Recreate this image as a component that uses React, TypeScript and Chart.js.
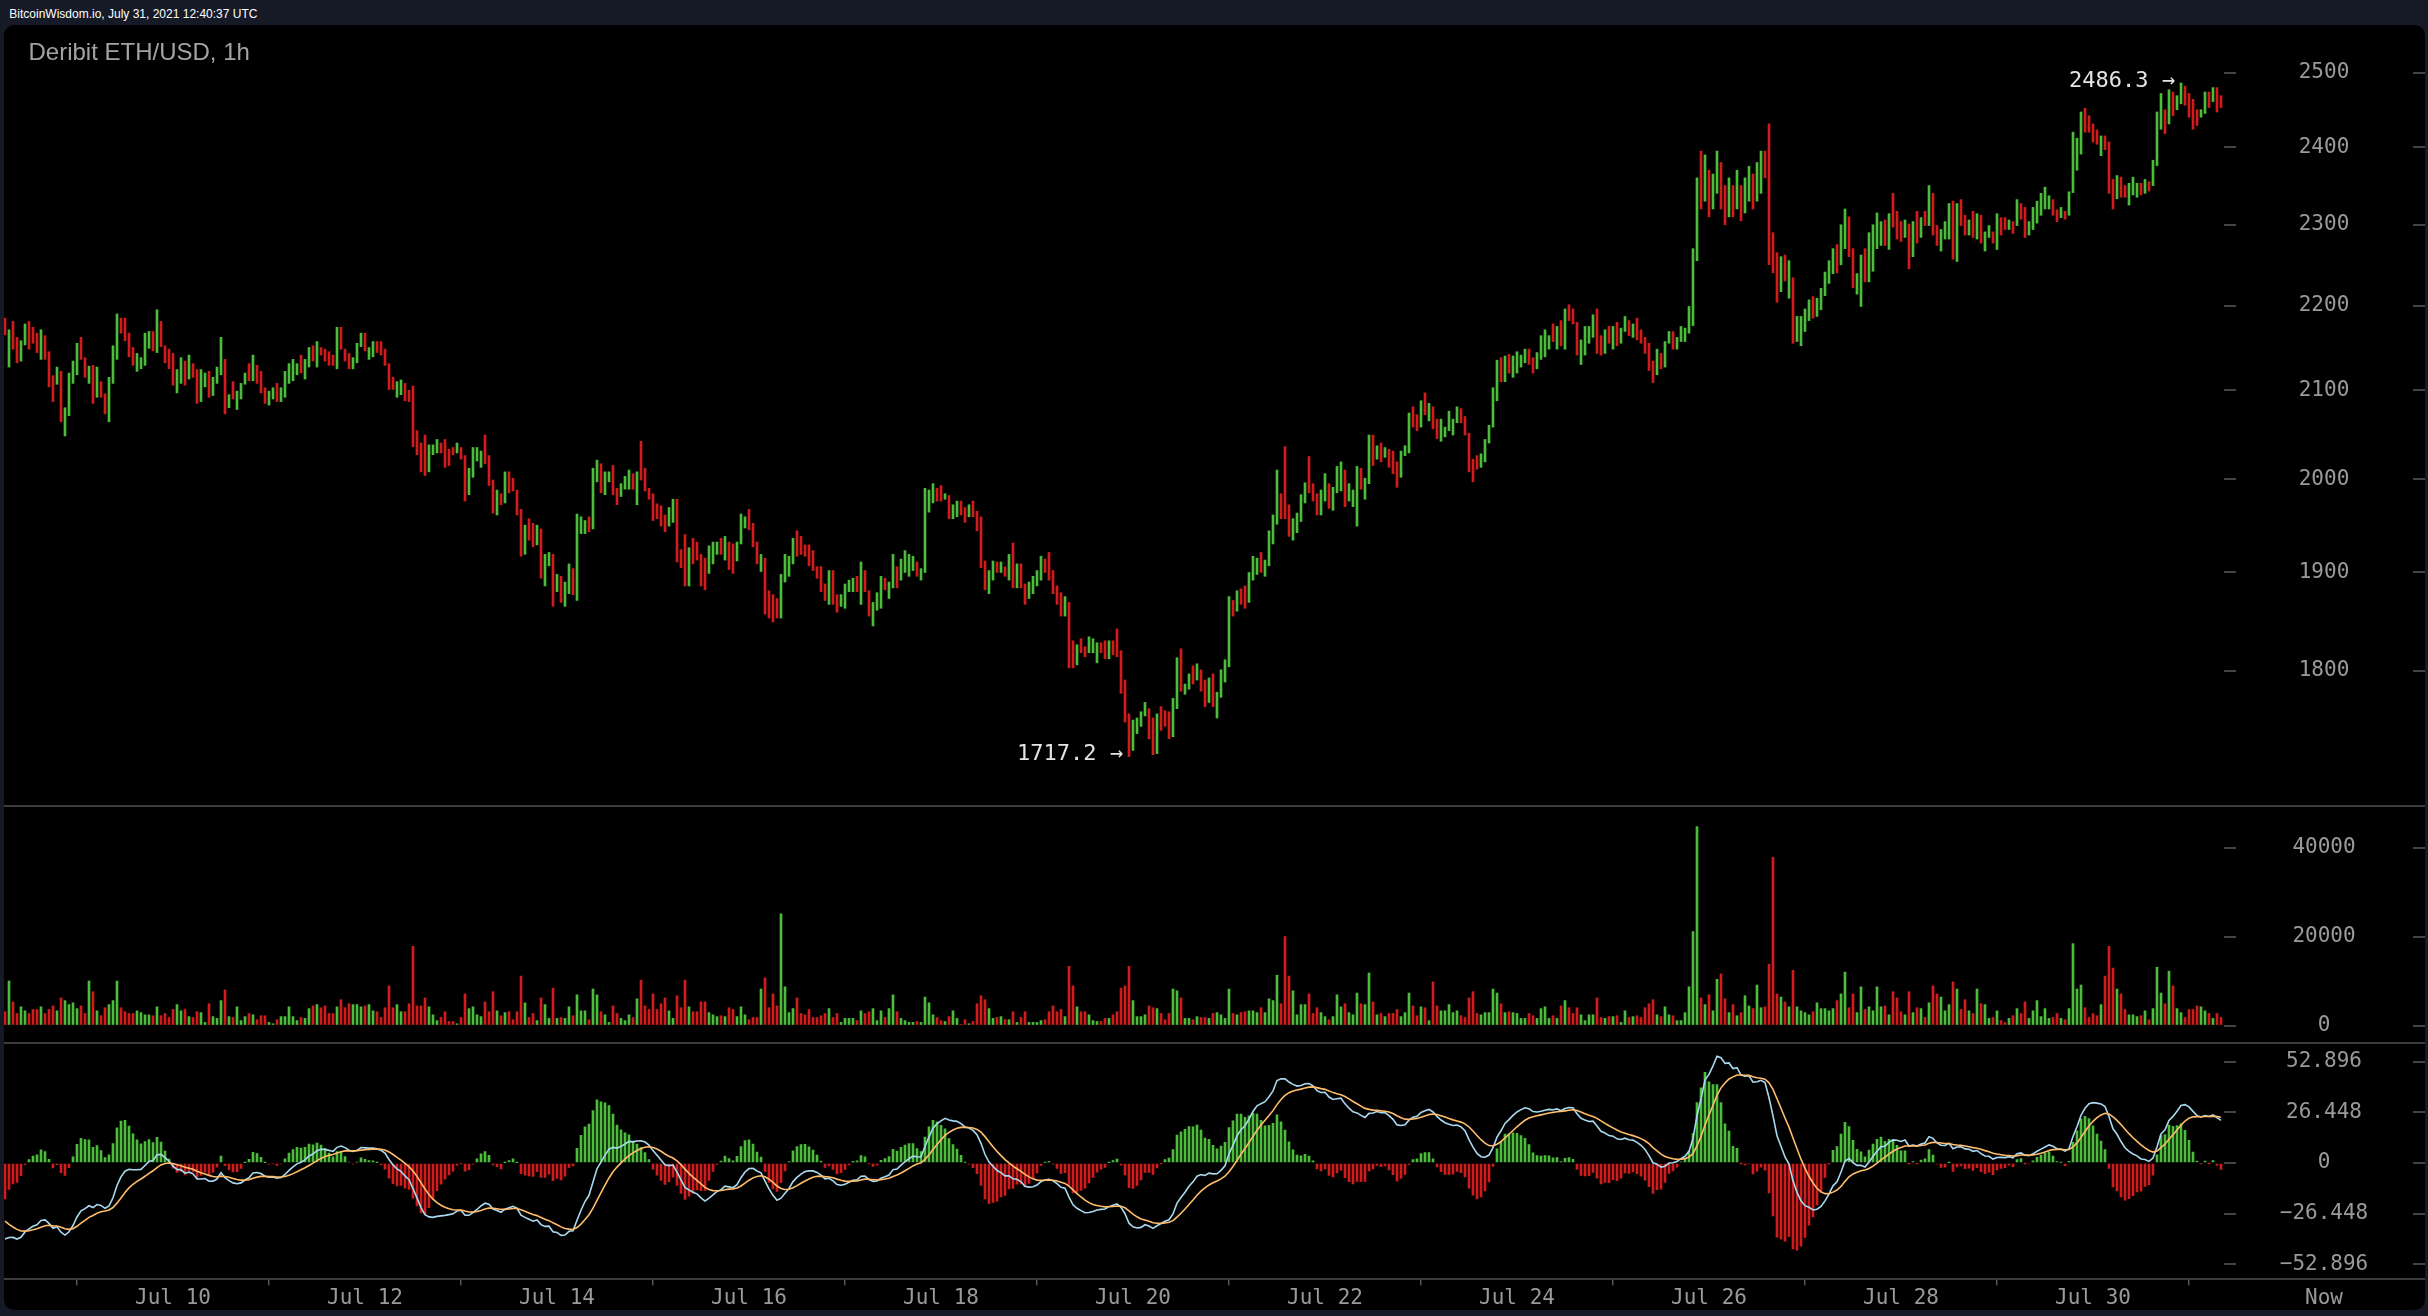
import React, { useEffect, useRef } from "react";
import { Chart, registerables } from "chart.js";

Chart.register(...registerables);

// ---------------- data (hourly candles from Jul 8 06:00) ----------------
const firstOpen = 2180;

const highs = [
  2185,2171,2181,2162,2158,2178,2181,2174,2167,2171,
  2164,2145,2117,2127,2122,2080,2120,2134,2155,2162,
  2138,2128,2129,2127,2110,2096,2115,2152,2190,2185,
  2185,2167,2150,2143,2138,2167,2169,2169,2195,2181,
  2152,2148,2143,2124,2138,2134,2141,2131,2124,2124,
  2120,2122,2115,2127,2162,2136,2095,2110,2099,2108,
  2120,2131,2141,2129,2122,2103,2099,2103,2108,2103,
  2122,2131,2136,2131,2141,2136,2150,2152,2157,2150,
  2148,2145,2141,2174,2174,2148,2143,2138,2155,2167,
  2167,2150,2157,2157,2157,2148,2131,2115,2110,2112,
  2108,2100,2105,2054,2040,2049,2038,2038,2044,2040,
  2044,2033,2035,2040,2035,2026,2012,2035,2035,2031,
  2049,2026,1999,1988,1984,2008,2008,2001,1988,1967,
  1950,1957,1952,1950,1946,1919,1921,1919,1898,1896,
  1890,1909,1904,1962,1959,1955,1959,2012,2021,2017,
  2008,2008,2015,1990,1995,2003,2010,2006,2008,2042,
  2012,1990,1984,1973,1971,1961,1969,1978,1978,1924,
  1940,1926,1936,1932,1919,1915,1928,1932,1932,1936,
  1938,1932,1930,1932,1962,1959,1967,1952,1932,1919,
  1915,1881,1877,1873,1898,1919,1917,1936,1944,1938,
  1929,1929,1923,1906,1906,1888,1902,1902,1877,1877,
  1888,1892,1894,1896,1911,1902,1881,1869,1879,1896,
  1894,1890,1919,1906,1914,1923,1919,1917,1911,1904,
  1990,1988,1995,1990,1993,1984,1982,1972,1976,1976,
  1969,1972,1976,1965,1959,1912,1902,1912,1911,1911,
  1906,1919,1931,1909,1909,1888,1890,1896,1902,1917,
  1914,1921,1902,1886,1879,1875,1869,1830,1826,1832,
  1824,1834,1832,1828,1828,1830,1830,1830,1842,1820,
  1791,1758,1752,1754,1760,1769,1763,1754,1758,1765,
  1761,1760,1773,1813,1822,1787,1797,1805,1807,1801,
  1791,1793,1797,1779,1801,1811,1875,1871,1881,1883,
  1886,1900,1917,1915,1921,1913,1944,1961,2010,1984,
  2036,1972,1957,1963,1983,1996,2025,1995,1984,1988,
  2006,1995,1991,2014,2019,2010,1995,1988,2014,2012,
  2001,2049,2049,2037,2040,2035,2033,2031,2019,2031,
  2037,2074,2081,2072,2088,2097,2085,2081,2067,2067,
  2058,2076,2067,2081,2079,2070,2051,2022,2026,2028,
  2044,2060,2103,2135,2138,2140,2142,2140,2145,2141,
  2148,2148,2138,2144,2164,2171,2164,2178,2175,2182,
  2196,2201,2196,2180,2159,2175,2175,2189,2196,2164,
  2171,2175,2175,2180,2173,2187,2182,2178,2185,2171,
  2162,2155,2134,2148,2143,2157,2169,2169,2162,2175,
  2173,2199,2270,2360,2395,2390,2370,2365,2395,2380,
  2350,2360,2350,2370,2350,2360,2375,2365,2380,2395,
  2395,2431,2290,2265,2260,2262,2255,2234,2187,2187,
  2196,2207,2211,2209,2221,2241,2255,2270,2275,2300,
  2320,2310,2270,2239,2262,2270,2290,2300,2315,2304,
  2306,2314,2340,2317,2304,2306,2301,2304,2317,2309,
  2317,2350,2340,2299,2294,2304,2327,2330,2327,2332,
  2312,2306,2317,2314,2312,2291,2299,2291,2314,2309,
  2309,2306,2304,2332,2327,2322,2304,2322,2330,2340,
  2348,2337,2332,2319,2322,2317,2342,2420,2412,2447,
  2452,2442,2431,2423,2415,2415,2407,2358,2363,2361,
  2350,2353,2361,2353,2353,2358,2355,2383,2447,2472,
  2450,2477,2474,2469,2486.3,2482,2472,2464,2450,2450,
  2474,2474,2480,2480,2469,
];

const lows = [
  2165,2127,2148,2132,2134,2153,2148,2155,2144,2136,
  2136,2104,2087,2107,2064,2048,2071,2108,2118,2136,
  2115,2108,2085,2092,2092,2073,2064,2108,2136,2167,
  2158,2139,2129,2122,2125,2129,2149,2146,2144,2151,
  2132,2125,2106,2097,2108,2106,2113,2115,2085,2087,
  2104,2092,2094,2108,2118,2073,2080,2090,2078,2090,
  2107,2111,2111,2108,2097,2085,2083,2090,2087,2087,
  2092,2108,2111,2118,2120,2113,2127,2134,2127,2141,
  2134,2129,2129,2125,2148,2134,2125,2125,2132,2151,
  2146,2136,2139,2144,2141,2129,2101,2101,2092,2095,
  2088,2087,2036,2027,2008,2004,2008,2027,2029,2029,
  2013,2015,2027,2029,2022,1976,1983,2002,2020,2013,
  2017,1993,1963,1961,1972,1974,1985,1987,1961,1917,
  1919,1934,1927,1929,1894,1886,1907,1865,1880,1869,
  1865,1878,1877,1871,1941,1941,1943,1946,1997,1985,
  1983,1997,1983,1972,1981,1989,1989,1989,1972,1999,
  1987,1978,1955,1957,1949,1943,1949,1953,1911,1905,
  1886,1886,1909,1913,1886,1882,1899,1909,1919,1919,
  1913,1903,1899,1912,1930,1947,1945,1927,1909,1901,
  1857,1853,1849,1853,1853,1890,1896,1909,1917,1919,
  1917,1907,1902,1894,1880,1871,1867,1867,1859,1865,
  1863,1880,1880,1880,1867,1880,1855,1845,1861,1863,
  1882,1873,1884,1884,1892,1900,1896,1902,1896,1892,
  1900,1964,1974,1976,1976,1978,1957,1957,1959,1961,
  1953,1959,1959,1944,1905,1882,1878,1892,1900,1900,
  1896,1892,1884,1884,1884,1867,1873,1878,1886,1892,
  1900,1892,1878,1867,1855,1855,1803,1803,1806,1818,
  1814,1818,1818,1808,1818,1812,1812,1816,1814,1778,
  1750,1717.2,1723,1739,1746,1756,1734,1719,1720,1742,
  1746,1734,1736,1763,1780,1777,1782,1787,1791,1780,
  1765,1769,1765,1754,1774,1789,1804,1855,1860,1867,
  1863,1869,1892,1898,1900,1896,1907,1930,1951,1957,
  1957,1938,1934,1942,1954,1974,1985,1976,1961,1961,
  1976,1968,1966,1985,1987,1970,1976,1970,1949,1989,
  1978,1995,2015,2022,2019,2024,2013,2006,1991,2002,
  2026,2029,2058,2054,2058,2072,2065,2056,2045,2042,
  2047,2054,2049,2063,2063,2049,2008,1997,2011,2013,
  2019,2040,2058,2088,2110,2110,2120,2115,2120,2127,
  2132,2130,2120,2125,2136,2139,2148,2157,2148,2152,
  2148,2182,2178,2141,2130,2141,2155,2162,2143,2141,
  2143,2155,2148,2152,2155,2169,2164,2162,2159,2155,
  2143,2123,2109,2118,2125,2127,2155,2148,2148,2157,
  2157,2167,2176,2255,2320,2330,2310,2320,2340,2320,
  2300,2310,2310,2320,2305,2315,2330,2320,2330,2340,
  2360,2250,2240,2204,2217,2230,2209,2155,2157,2152,
  2169,2182,2185,2187,2195,2212,2227,2239,2240,2250,
  2270,2260,2222,2214,2199,2229,2229,2242,2270,2274,
  2274,2269,2297,2282,2279,2284,2245,2260,2277,2284,
  2299,2299,2287,2274,2267,2282,2282,2257,2254,2299,
  2287,2287,2284,2282,2277,2267,2284,2277,2269,2287,
  2294,2294,2289,2299,2307,2284,2287,2294,2302,2312,
  2320,2320,2312,2304,2309,2307,2312,2341,2370,2391,
  2420,2420,2407,2404,2389,2397,2340,2320,2333,2335,
  2335,2325,2338,2335,2338,2340,2343,2350,2376,2424,
  2418,2431,2442,2450,2458,2456,2440,2424,2429,2440,
  2445,2453,2461,2447,2453,
];

const closes = [
  2166,2168,2155,2138,2153,2173,2160,2157,2149,2164,
  2142,2112,2093,2123,2076,2079,2110,2129,2148,2141,
  2120,2124,2094,2120,2096,2078,2105,2143,2179,2171,
  2163,2145,2133,2134,2136,2159,2165,2151,2185,2157,
  2136,2130,2113,2119,2132,2112,2135,2118,2093,2117,
  2119,2098,2111,2123,2153,2086,2092,2091,2095,2104,
  2117,2115,2135,2112,2102,2089,2096,2100,2091,2100,
  2116,2126,2127,2129,2124,2131,2145,2138,2151,2143,
  2137,2132,2131,2164,2153,2137,2129,2135,2150,2164,
  2148,2149,2153,2147,2144,2133,2107,2104,2106,2109,
  2092,2089,2050,2032,2014,2013,2032,2036,2041,2035,
  2032,2030,2028,2038,2025,1986,2006,2020,2024,2028,
  2023,2000,1970,1983,1974,2001,1990,1989,1966,1927,
  1944,1939,1932,1946,1904,1912,1918,1876,1894,1874,
  1885,1903,1882,1944,1950,1953,1946,1999,2016,1991,
  2003,2006,1989,1976,1992,2000,2006,1992,2001,2000,
  1992,1980,1961,1960,1953,1947,1965,1973,1924,1909,
  1897,1918,1914,1913,1893,1889,1922,1927,1929,1922,
  1933,1909,1905,1928,1956,1957,1949,1932,1914,1915,
  1869,1859,1855,1854,1889,1908,1913,1931,1922,1921,
  1919,1911,1906,1896,1885,1874,1895,1874,1863,1875,
  1883,1890,1891,1883,1902,1884,1860,1864,1875,1889,
  1884,1887,1912,1888,1910,1912,1915,1916,1899,1902,
  1972,1983,1991,1979,1978,1983,1962,1969,1973,1964,
  1956,1969,1962,1948,1916,1888,1897,1908,1902,1909,
  1898,1914,1893,1904,1889,1871,1887,1892,1899,1912,
  1903,1898,1883,1871,1860,1871,1816,1808,1822,1821,
  1816,1824,1826,1827,1820,1816,1826,1819,1818,1786,
  1758,1725,1746,1751,1757,1766,1740,1726,1750,1747,
  1746,1739,1766,1803,1781,1785,1794,1791,1804,1784,
  1770,1788,1771,1774,1796,1807,1861,1858,1877,1870,
  1868,1894,1912,1914,1904,1910,1937,1955,1998,1962,
  1960,1945,1952,1959,1977,1992,1989,1980,1966,1983,
  2000,1973,1986,2008,2013,1978,1983,1985,2001,1994,
  1996,2038,2022,2034,2023,2033,2017,2011,1997,2025,
  2035,2065,2063,2058,2082,2077,2081,2061,2049,2052,
  2056,2063,2065,2077,2066,2053,2017,2015,2013,2025,
  2039,2056,2094,2126,2116,2134,2124,2135,2140,2141,
  2145,2134,2124,2140,2150,2158,2161,2159,2170,2158,
  2186,2185,2182,2149,2153,2168,2171,2184,2154,2146,
  2165,2159,2170,2158,2169,2183,2168,2175,2164,2158,
  2147,2129,2114,2142,2129,2151,2166,2152,2159,2171,
  2172,2193,2251,2339,2335,2378,2322,2356,2384,2332,
  2310,2350,2318,2360,2314,2351,2366,2329,2370,2384,
  2367,2286,2250,2216,2251,2236,2246,2171,2181,2183,
  2191,2202,2190,2205,2216,2235,2249,2264,2247,2290,
  2310,2270,2232,2234,2249,2237,2278,2288,2296,2298,
  2280,2305,2302,2289,2284,2302,2256,2295,2285,2304,
  2303,2340,2298,2279,2289,2300,2318,2272,2312,2306,
  2292,2302,2291,2308,2284,2286,2296,2280,2305,2298,
  2296,2304,2292,2325,2311,2292,2301,2316,2324,2326,
  2330,2334,2316,2307,2319,2309,2336,2404,2408,2436,
  2426,2424,2412,2408,2410,2401,2353,2328,2357,2340,
  2338,2347,2350,2352,2341,2354,2345,2376,2433,2462,
  2424,2468,2448,2465,2480,2461,2446,2432,2431,2448,
  2468,2457,2476,2454,2453,
];

const volumes = [
  3100,10000,5300,2700,4200,3300,2700,3600,3600,4200,
  2700,3600,4400,3300,6200,5600,4700,5100,3800,4400,
  2700,10000,7600,3300,2200,4000,4700,5600,10000,4000,
  3100,2700,2700,3300,2900,2400,2400,2200,4200,2200,
  2700,1800,3600,4700,3300,3600,2000,1800,3100,2900,
  700,4900,2000,1600,5600,8000,2000,1800,4200,1100,
  2000,2700,2400,1300,2200,2200,700,400,1300,2000,
  2000,4200,2000,1100,1800,1600,3800,4400,4700,4000,
  4400,2700,2700,4200,5800,4000,4900,4700,4700,4200,
  4400,4700,3300,3100,1800,4000,8900,4000,4700,3100,
  3100,4900,17800,4400,4400,6200,4200,2400,1100,1800,
  3100,900,900,400,1800,7100,3800,4200,2400,2000,
  5300,3100,7600,3300,2200,2900,3100,1300,3100,11100,
  5100,1800,2700,1100,6200,4700,1600,8400,1600,1800,
  1600,4200,2200,6900,3300,3300,1300,8200,6900,3100,
  2400,700,4400,2700,1600,1100,2400,1800,6000,10200,
  4400,3600,7100,3600,4900,6200,3300,1600,6700,4000,
  10200,4200,3100,3100,5300,5300,2900,2400,2000,2200,
  2000,4000,3600,2000,4200,2400,1300,1800,1800,8200,
  10700,4000,7100,4400,25100,8700,2900,3800,6200,2700,
  2400,3600,1800,1800,2200,2700,3800,1800,2700,700,
  1600,1600,1600,1100,3300,2700,3100,3800,1100,3300,
  1800,3800,6900,3100,1600,1100,700,700,900,700,
  6400,5100,2400,1800,1100,900,2000,3300,1600,200,
  1300,400,900,4900,6700,5800,3800,1600,1800,2000,
  1300,1300,3100,700,1800,3100,700,700,700,1100,
  1300,3100,4400,3100,3600,2000,13300,8900,4200,3100,
  3100,2400,1100,900,900,1600,1600,2400,3100,8400,
  8900,13300,5600,2000,2000,2400,4400,4000,3800,2700,
  1300,2700,8200,7800,6200,1600,1600,1300,2000,1800,
  1800,1600,2700,2900,2400,1600,8200,2700,2400,2900,
  3100,3300,3300,2900,4000,2900,6000,5600,11300,4900,
  20000,11100,7800,2400,4700,4700,7100,2700,4000,2900,
  2000,1300,2000,6900,4200,4900,2900,2400,7300,4900,
  4700,11800,5300,2400,2700,2000,2700,2700,3600,2000,
  2900,7300,4400,2200,4200,4000,1100,9800,4400,3300,
  3300,4700,2900,3300,2200,1800,6200,7600,2700,2400,
  2900,2900,8200,7300,4900,2900,3100,2900,2700,1600,
  1600,2700,2200,1600,3800,4200,1600,2200,1600,4400,
  5600,4000,2700,4000,2400,1100,2400,2400,6200,1800,
  1600,2000,2000,2200,700,3300,1800,2000,2200,1800,
  4000,4900,5800,2400,2000,4200,2400,2200,1100,1100,
  2900,8700,21100,44700,6200,4700,6900,3300,10400,11600,
  6000,2900,4700,2200,2900,6700,4400,3800,9100,4000,
  4200,13800,37800,7100,6400,5300,4200,12400,4200,3300,
  2900,2400,3100,5100,3800,3800,3300,3800,5600,7100,
  12000,4000,7100,2900,8700,3600,4200,3300,8700,4200,
  4400,2400,7600,6200,3100,2400,7600,2900,4000,3800,
  1800,5100,8900,7100,6400,3300,4700,9800,8200,3600,
  5800,3300,2700,8200,4900,4700,1600,1800,3300,1100,
  700,1600,2200,3800,2700,5300,1600,3300,5600,2000,
  3800,1600,1800,2700,1600,1300,3800,18400,8200,9100,
  4000,1800,2700,2200,4700,11100,17800,12900,8200,7100,
  3600,2400,2400,2000,2200,3300,1300,3800,13100,7300,
  4900,12200,8900,3800,2900,1800,3600,3600,4400,4200,
  3300,2700,1600,2700,1800,
];

const dateTickIndex = [42, 90, 138, 186, 234, 282, 330, 378, 426, 474, 522];
const dateTickLabels = ["Jul 10", "Jul 12", "Jul 14", "Jul 16", "Jul 18", "Jul 20", "Jul 22", "Jul 24", "Jul 26", "Jul 28", "Jul 30"];
const priceTicks = [1800, 1900, 2000, 2100, 2200, 2300, 2400, 2500];
const volumeTicks = [0, 20000, 40000];
const macdTicks = [-52.896, -26.448, 0, 26.448, 52.896];
// MACD state at the first visible bar (fast EMA, slow EMA, signal), read from the indicator's start
const macdSeed = [2200, 2240, -28];

// ---------------- styles / layout ----------------
const UP = "#4cbd3b";
const DOWN = "#d21c1c";
const DIF_COLOR = "#a9d9f0";
const DEA_COLOR = "#ffbd6b";
const LABEL_COLOR = "#9a9a9a";
const TICK_COLOR = "#444444";
const NAVY = "#151a26";
const MONO = "'DejaVu Sans Mono', monospace";
const AXIS_FONT = { family: MONO, size: 21 };

const W = 2428;
const H = 1316;
const PLOT_LEFT = 4;
const AXIS_W = 204;
const X_MIN = -0.25;
const X_MAX = 554.75;
const PRICE_TOP = 25;
const SEP_1 = 806;
const SEP_2 = 1043;
const MACD_AREA_H = 235.5;
const MACD_CANVAS_H = H - SEP_2;
const PRICE_RANGE = [1671.2, 2566.8];
const VOL_RANGE = [-3930, 49330];
const MACD_RANGE = [-60.4, 62.8];
const NOW_X = 2324;

// ---------------- derived series ----------------
const opens = closes.map((c, i) => (i === 0 ? firstOpen : closes[i - 1]));
const barColors = closes.map((c, i) => (c >= opens[i] ? UP : DOWN));

const dif: number[] = [];
const dea: number[] = [];
const hist: number[] = [];
{
  let fast = macdSeed[0];
  let slow = macdSeed[1];
  let sig = macdSeed[2];
  for (const c of closes) {
    fast += (2 / 13) * (c - fast);
    slow += (2 / 27) * (c - slow);
    const d = fast - slow;
    sig += (2 / 10) * (d - sig);
    dif.push(d);
    dea.push(sig);
    hist.push(2 * (d - sig));
  }
}

const rightDash = {
  id: "rightDash",
  afterDraw(chart: any) {
    const s = chart.scales.y;
    const ctx = chart.ctx;
    ctx.save();
    ctx.strokeStyle = TICK_COLOR;
    ctx.lineWidth = 2;
    s.ticks.forEach((t: any) => {
      const y = Math.round(s.getPixelForValue(t.value));
      ctx.beginPath();
      ctx.moveTo(2413, y);
      ctx.lineTo(2425, y);
      ctx.stroke();
    });
    ctx.restore();
  },
};

const extremes = {
  id: "extremes",
  afterDatasetsDraw(chart: any) {
    const xs = chart.scales.x;
    const ys = chart.scales.y;
    const ctx = chart.ctx;
    let hi = 0;
    let lo = 0;
    highs.forEach((v, i) => { if (v > highs[hi]) hi = i; });
    lows.forEach((v, i) => { if (v < lows[lo]) lo = i; });
    ctx.save();
    ctx.font = `22px ${MONO}`;
    ctx.fillStyle = "#e4e4e4";
    ctx.textAlign = "right";
    ctx.textBaseline = "middle";
    ctx.fillText(`${highs[hi].toFixed(1)} \u2192`, xs.getPixelForValue(hi) - 6, ys.getPixelForValue(highs[hi]) - 2);
    ctx.fillText(`${lows[lo].toFixed(1)} \u2192`, xs.getPixelForValue(lo) - 6, ys.getPixelForValue(lows[lo]) - 2);
    ctx.restore();
  },
};

const nowLabel = {
  id: "nowLabel",
  afterDraw(chart: any) {
    const xs = chart.scales.x;
    const ctx = chart.ctx;
    ctx.save();
    ctx.font = `21px ${MONO}`;
    ctx.fillStyle = LABEL_COLOR;
    ctx.textAlign = "center";
    ctx.textBaseline = "middle";
    ctx.fillText("Now", NOW_X, xs.top + 7 + 12.6);
    ctx.restore();
  },
};

function yAxis(type: string, range: number[], ticksArr: number[], padding: number, fmt: (v: number) => string) {
  return {
    type,
    position: "right",
    min: range[0],
    max: range[1],
    bounds: "data",
    afterBuildTicks: (s: any) => { s.ticks = ticksArr.map((v) => ({ value: v })); },
    afterFit: (s: any) => { s.width = AXIS_W; s.paddingTop = 0; s.paddingBottom = 0; },
    ticks: { autoSkip: false, crossAlign: "center", padding, color: LABEL_COLOR, font: AXIS_FONT, callback: (v: any) => fmt(Number(v)) },
    grid: { drawOnChartArea: false, drawTicks: true, tickLength: 12, color: TICK_COLOR, lineWidth: 2 },
    border: { display: false },
  };
}

const hiddenX = { type: "linear", min: X_MIN, max: X_MAX, display: false, bounds: "data", offset: false };

const baseOptions = {
  animation: false,
  responsive: false,
  events: [],
  layout: { padding: { left: PLOT_LEFT, right: 0, top: 0, bottom: 0 } },
  plugins: { legend: { display: false }, tooltip: { enabled: false } },
};

export default function App() {
  const priceRef = useRef<HTMLCanvasElement | null>(null);
  const volRef = useRef<HTMLCanvasElement | null>(null);
  const macdRef = useRef<HTMLCanvasElement | null>(null);

  useEffect(() => {
    document.body.style.margin = "0";
    document.body.style.background = NAVY;
    document.body.style.overflow = "hidden";
    const charts: any[] = [];

    if (priceRef.current) {
      charts.push(
        new Chart(priceRef.current, {
          type: "bar",
          data: {
            datasets: [
              {
                data: highs.map((h, i) => ({ x: i, y: [lows[i], h] })),
                backgroundColor: barColors,
                borderWidth: 0,
                barThickness: 2,
                minBarLength: 1,
              },
            ],
          },
          options: {
            ...baseOptions,
            scales: {
              x: hiddenX,
              y: yAxis("logarithmic", PRICE_RANGE, priceTicks, 62.7, (v) => String(v)),
            },
          } as any,
          plugins: [rightDash, extremes],
        } as any)
      );
    }

    if (volRef.current) {
      charts.push(
        new Chart(volRef.current, {
          type: "bar",
          data: {
            datasets: [
              {
                data: volumes.map((v, i) => ({ x: i, y: v })),
                backgroundColor: barColors,
                borderWidth: 0,
                barThickness: 2,
              },
            ],
          },
          options: {
            ...baseOptions,
            scales: {
              x: hiddenX,
              y: yAxis("linear", VOL_RANGE, volumeTicks, 56.4, (v) => String(v)),
            },
          } as any,
          plugins: [rightDash],
        } as any)
      );
    }

    if (macdRef.current) {
      charts.push(
        new Chart(macdRef.current, {
          type: "bar",
          data: {
            datasets: [
              {
                type: "line",
                data: dea.map((v, i) => ({ x: i, y: v })),
                borderColor: DEA_COLOR,
                borderWidth: 1.6,
                pointRadius: 0,
                tension: 0,
                order: 0,
              },
              {
                type: "line",
                data: dif.map((v, i) => ({ x: i, y: v })),
                borderColor: DIF_COLOR,
                borderWidth: 1.6,
                pointRadius: 0,
                tension: 0,
                order: 1,
              },
              {
                type: "bar",
                data: hist.map((v, i) => ({ x: i, y: v })),
                backgroundColor: hist.map((v) => (v >= 0 ? UP : DOWN)),
                borderWidth: 0,
                barThickness: 2,
                order: 2,
              },
            ],
          },
          options: {
            ...baseOptions,
            scales: {
              x: {
                type: "linear",
                position: "bottom",
                min: X_MIN,
                max: X_MAX,
                bounds: "data",
                offset: false,
                afterBuildTicks: (s: any) => { s.ticks = dateTickIndex.map((v) => ({ value: v })); },
                afterFit: (s: any) => { s.height = MACD_CANVAS_H - MACD_AREA_H; s.paddingLeft = 0; s.paddingRight = 0; },
                ticks: {
                  autoSkip: false,
                  maxRotation: 0,
                  minRotation: 0,
                  padding: 0,
                  color: LABEL_COLOR,
                  font: AXIS_FONT,
                  callback: (v: any) => dateTickLabels[dateTickIndex.indexOf(Number(v))] ?? "",
                },
                grid: { drawOnChartArea: false, drawTicks: true, tickLength: 7, color: "#555555", lineWidth: 1.5 },
                border: { display: false },
              },
              y: yAxis("linear", MACD_RANGE, macdTicks, 43.75, (v) =>
                v === 0 ? "0" : v < 0 ? "\u2212" + Math.abs(v).toFixed(3) : v.toFixed(3)
              ),
            },
          } as any,
          plugins: [rightDash, nowLabel],
        } as any)
      );
    }

    return () => charts.forEach((c) => c.destroy());
  }, []);

  const sep = (top: number) => (
    <div style={{ position: "absolute", left: 4, top, width: 2421, height: 2, background: "#3c3c3c" }} />
  );

  return (
    <div style={{ position: "absolute", left: 0, top: 0, width: W, height: H, background: NAVY, overflow: "hidden" }}>
      <div style={{ position: "absolute", left: 4, top: PRICE_TOP, width: 2421, height: 1285, background: "#000", borderRadius: 10 }} />
      <div
        style={{
          position: "absolute", left: 9.3, top: 8.1, color: "#ffffff", fontFamily: "'Liberation Sans', Arial, sans-serif",
          fontSize: 12, lineHeight: 1, whiteSpace: "nowrap",
        }}
      >
        BitcoinWisdom.io, July 31, 2021 12:40:37 UTC
      </div>
      <canvas ref={priceRef} width={W} height={SEP_1 - PRICE_TOP} style={{ position: "absolute", left: 0, top: PRICE_TOP, width: W, height: SEP_1 - PRICE_TOP }} />
      <canvas ref={volRef} width={W} height={SEP_2 - SEP_1} style={{ position: "absolute", left: 0, top: SEP_1, width: W, height: SEP_2 - SEP_1 }} />
      <canvas ref={macdRef} width={W} height={MACD_CANVAS_H} style={{ position: "absolute", left: 0, top: SEP_2, width: W, height: MACD_CANVAS_H }} />
      {sep(SEP_1 - 1)}
      {sep(SEP_2 - 1)}
      {sep(SEP_2 + MACD_AREA_H - 1)}
      <div
        style={{
          position: "absolute", left: 28.5, top: 39.7, color: "#a3a3a3", fontFamily: "'Liberation Sans', Arial, sans-serif",
          fontSize: 24, lineHeight: 1, whiteSpace: "nowrap",
        }}
      >
        Deribit ETH/USD, 1h
      </div>
    </div>
  );
}
